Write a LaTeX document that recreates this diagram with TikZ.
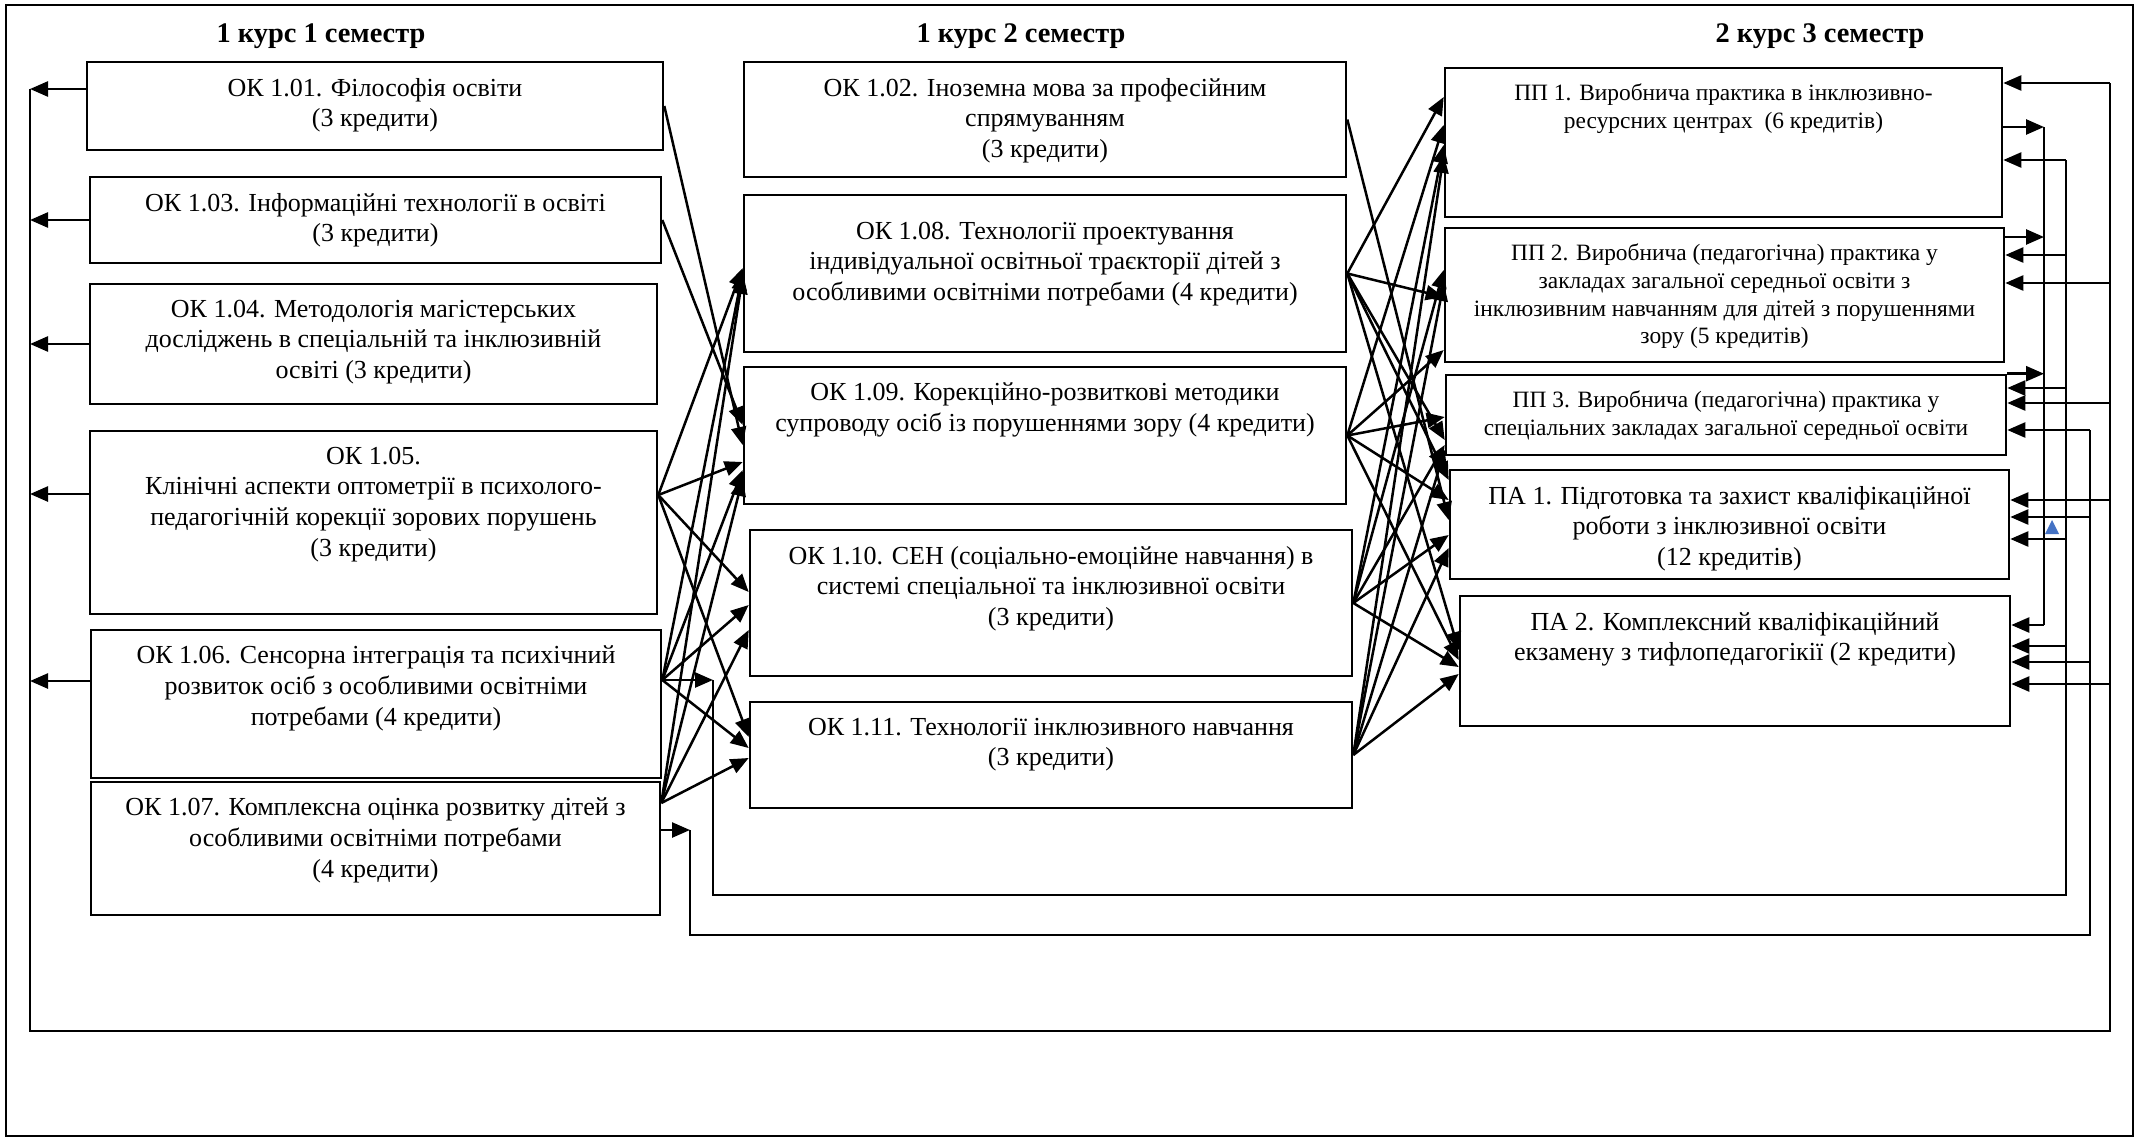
\documentclass[tikz,border=0pt]{standalone}
\usepackage{fontspec}
\setmainfont{Liberation Serif}
\usetikzlibrary{arrows.meta,fit}
\begin{document}
\begin{tikzpicture}[x=0.5pt,y=-0.5pt,
    course/.style={draw,rectangle,line width=1.3pt,inner sep=0pt},
    coursetext/.style={align=center,inner sep=0pt,font=\fontsize{13}{15.3}\selectfont},
    practicetext/.style={align=center,inner sep=0pt,font=\fontsize{11.7}{13.8}\selectfont},
    semester/.style={font=\fontsize{14.2}{16}\selectfont\bfseries},
    link/.style={line width=1.25pt,-{Triangle[length=9pt,width=7.5pt]}},
    bus/.style={line width=1.25pt}
  ]
  \useasboundingbox (0,0) rectangle (2141,1140);
  \draw[line width=1.2pt] (6,5) rectangle (2133,1136);

  % semesters
  \node[semester] (s1) at (321,36) {1 курс 1 семестр};
  \node[semester] (s2) at (1021,36) {1 курс 2 семестр};
  \node[semester] (s3) at (1820,36) {2 курс 3 семестр};

  % 1 semester
  \node[course,fit={(87,62) (663,150)}] (b101) {};
  \node[course,fit={(90,177) (661,263)}] (b103) {};
  \node[course,fit={(90,284) (657,404)}] (b104) {};
  \node[course,fit={(90,431) (657,614)}] (b105) {};
  \node[course,fit={(91,630) (661,778)}] (b106) {};
  \node[course,fit={(91,782) (660,915)}] (b107) {};
  \node[coursetext,below=8.5pt] (t101) at (b101.north) {ОК 1.01. Філософія освіти\\(3 кредити)};
  \node[coursetext,below=8.5pt] (t103) at (b103.north) {ОК 1.03. Інформаційні технології в освіті\\(3 кредити)};
  \node[coursetext,below=8.5pt] (t104) at (b104.north) {ОК 1.04. Методологія магістерських\\досліджень в спеціальній та інклюзивній\\освіті (3 кредити)};
  \node[coursetext,below=8.5pt] (t105) at (b105.north) {ОК 1.05.\\Клінічні аспекти оптометрії в психолого-\\педагогічній корекції зорових порушень\\(3 кредити)};
  \node[coursetext,below=8.5pt] (t106) at (b106.north) {ОК 1.06. Сенсорна інтеграція та психічний\\розвиток осіб з особливими освітніми\\потребами (4 кредити)};
  \node[coursetext,below=8.5pt] (t107) at (b107.north) {ОК 1.07. Комплексна оцінка розвитку дітей з\\особливими освітніми потребами\\(4 кредити)};

  % 2 semester
  \node[course,fit={(744,62) (1346,177)}] (b102) {};
  \node[course,fit={(744,195) (1346,352)}] (b108) {};
  \node[course,fit={(744,367) (1346,504)}] (b109) {};
  \node[course,fit={(750,530) (1352,676)}] (b110) {};
  \node[course,fit={(750,702) (1352,808)}] (b111) {};
  \node[coursetext,below=8.5pt] (t102) at (b102.north) {ОК 1.02. Іноземна мова за професійним\\спрямуванням\\(3 кредити)};
  \node[coursetext,below=14pt] (t108) at (b108.north) {ОК 1.08. Технології проектування\\індивідуальної освітньої траєкторії дітей з\\особливими освітніми потребами (4 кредити)};
  \node[coursetext,below=8.5pt] (t109) at (b109.north) {ОК 1.09. Корекційно-розвиткові методики\\супроводу осіб із порушеннями зору (4 кредити)};
  \node[coursetext,below=8.5pt] (t110) at (b110.north) {ОК 1.10. СЕН (соціально-емоційне навчання) в\\системі спеціальної та інклюзивної освіти\\(3 кредити)};
  \node[coursetext,below=8.5pt] (t111) at (b111.north) {ОК 1.11. Технології інклюзивного навчання\\(3 кредити)};

  % 3 semester
  \node[course,fit={(1445,68) (2002,217)}] (pp1) {};
  \node[course,fit={(1445,228) (2004,362)}] (pp2) {};
  \node[course,fit={(1446,375) (2006,455)}] (pp3) {};
  \node[course,fit={(1450,470) (2009,579)}] (pa1) {};
  \node[course,fit={(1460,596) (2010,726)}] (pa2) {};
  \node[practicetext,below=8.5pt] (tp1) at (pp1.north) {ПП 1. Виробнича практика в інклюзивно-\\ресурсних центрах\ \ (6 кредитів)};
  \node[practicetext,below=8.5pt] (tp2) at (pp2.north) {ПП 2. Виробнича (педагогічна) практика у\\закладах загальної середньої освіти з\\інклюзивним навчанням для дітей з порушеннями\\зору (5 кредитів)};
  \node[practicetext,below=8.5pt] (tp3) at (pp3.north) {ПП 3. Виробнича (педагогічна) практика у\\спеціальних закладах загальної середньої освіти};
  \node[coursetext,below=8.5pt] (ta1) at (pa1.north) {ПА 1. Підготовка та захист кваліфікаційної\\роботи з інклюзивної освіти\\(12 кредитів)};
  \node[coursetext,below=8.5pt] (ta2) at (pa2.north) {ПА 2. Комплексний кваліфікаційний\\екзамену з тифлопедагогікії (2 кредити)};

  % turning points of the long lines
  \coordinate (turnB) at (713,680);
  \coordinate (cornerB) at (2066,895);
  \coordinate (turnC) at (690,830);
  \coordinate (cornerC) at (2090,935);
  \coordinate (turnD) at (30,89);
  \coordinate (cornerD) at (2110,1031);
  \coordinate (busA) at (2044,127);

  % 1 semester -> 2 semester
  \path[link]
    (b101.east |- 0,106) edge (b109.west |- 0,445)
    (b103.east |- 0,220) edge (b109.west |- 0,425)
    (b105.east |- 0,495) edge (b108.west |- 0,268)
    (b105.east |- 0,495) edge (b109.west |- 0,462)
    (b105.east |- 0,495) edge (b110.west |- 0,592)
    (b105.east |- 0,495) edge (b111.west |- 0,737)
    (b106.east |- 0,680) edge (b108.west |- 0,272)
    (b106.east |- 0,680) edge (b109.west |- 0,470)
    (b106.east |- 0,680) edge (b110.west |- 0,605)
    (b106.east |- 0,680) edge (b111.west |- 0,748)
    (b107.east |- 0,803) edge (b108.west |- 0,276)
    (b107.east |- 0,803) edge (b109.west |- 0,478)
    (b107.east |- 0,803) edge (b110.west |- 0,630)
    (b107.east |- 0,803) edge (b111.west |- 0,758);

  % 2 semester -> 3 semester
  \path[link]
    (b102.east) edge (pa1.west |- 0,520)
    (b108.east) edge (pp1.west |- 0,97)
    (b108.east) edge (pp2.west |- 0,297)
    (b108.east) edge (pp3.west |- 0,440)
    (b108.east) edge (pa1.west |- 0,480)
    (b108.east) edge (pa2.west |- 0,650)
    (b109.east) edge (pp1.west |- 0,125)
    (b109.east) edge (pp2.west |- 0,350)
    (b109.east) edge (pp3.west |- 0,417)
    (b109.east) edge (pa1.west |- 0,500)
    (b109.east) edge (pa2.west |- 0,660)
    (b110.east) edge (pp1.west |- 0,145)
    (b110.east) edge (pp2.west |- 0,270)
    (b110.east) edge (pp3.west |- 0,445)
    (b110.east) edge (pa1.west |- 0,535)
    (b110.east) edge (pa2.west |- 0,667)
    (b111.east) edge (pp1.west |- 0,155)
    (b111.east) edge (pp2.west |- 0,283)
    (b111.east) edge (pp3.west |- 0,450)
    (b111.east) edge (pa1.west |- 0,548)
    (b111.east) edge (pa2.west |- 0,674);

  % practices -> exam
  \path[link]
    (pp1.east |- busA) edge (busA)
    (pp2.east |- 0,237) edge (busA |- 0,237)
    (pp3.north east) edge (busA |- pp3.north)
    (busA |- 0,625) edge (pa2.east |- 0,625);
  \draw[bus] (busA) -- (busA |- 0,625);

  % OK 1.06 loop
  \path[link] (b106.east |- turnB) edge (turnB);
  \draw[bus] (turnB) |- (cornerB) -- (cornerB |- 0,160);
  \path[link]
    (cornerB |- 0,160) edge (pp1.east |- 0,160)
    (cornerB |- 0,255) edge (pp2.east |- 0,255)
    (cornerB |- 0,388) edge (pp3.east |- 0,388)
    (cornerB |- 0,539) edge (pa1.east |- 0,539)
    (cornerB |- 0,646) edge (pa2.east |- 0,646);

  % OK 1.07 loop
  \path[link] (b107.east |- turnC) edge (turnC);
  \draw[bus] (turnC) |- (cornerC) -- (cornerC |- 0,430);
  \path[link]
    (cornerC |- 0,430) edge (pp3.east |- 0,430)
    (cornerC |- 0,517) edge (pa1.east |- 0,517)
    (cornerC |- 0,662) edge (pa2.east |- 0,662);

  % big loop round the 1 semester
  \path[link]
    (b101.west |- turnD) edge (turnD)
    (b103.west |- 0,220) edge (turnD |- 0,220)
    (b104.west |- 0,344) edge (turnD |- 0,344)
    (b105.west |- 0,494) edge (turnD |- 0,494)
    (b106.west |- 0,681) edge (turnD |- 0,681);
  \draw[bus] (turnD) |- (cornerD) -- (cornerD |- 0,83);
  \path[link]
    (cornerD |- 0,83) edge (pp1.east |- 0,83)
    (cornerD |- 0,283) edge (pp2.east |- 0,283)
    (cornerD |- 0,403) edge (pp3.east |- 0,403)
    (cornerD |- 0,500) edge (pa1.east |- 0,500)
    (cornerD |- 0,684) edge (pa2.east |- 0,684);

  \fill[fill={rgb,255:red,68;green,114;blue,196}] (2045,534) -- (2059,534) -- (2052,520) -- cycle;
\end{tikzpicture}
\end{document}
